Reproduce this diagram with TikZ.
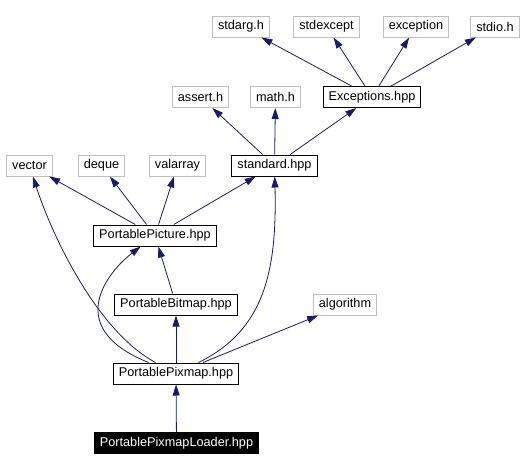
\documentclass[tikz,border=0pt]{standalone}
\usepackage{fontspec}
\setmainfont{Liberation Sans}
\usetikzlibrary{arrows.meta}
\definecolor{edgeblue}{HTML}{191970}
\definecolor{sysgray}{HTML}{BFBFBF}
\begin{document}
\begin{tikzpicture}[x=1pt,y=-1pt,
        file/.style = {draw, line width=1pt, inner xsep=5.5pt, inner ysep=0pt,
            minimum height=21pt, font=\fontsize{12.7}{15}\selectfont},
        sysfile/.style = {file, draw=sysgray},
        projfile/.style = {file, draw=black},
        mainfile/.style = {file, draw=black, fill=black, text=white},
        incl/.style = {draw=edgeblue, line width=0.8pt, -{Triangle[length=11pt,width=7pt]}}]
        \useasboundingbox (0,0) rectangle (523,471);

        % top rows
        \node[sysfile] (stdarg) at (241,26.5) {stdarg.h};
        \node[sysfile] (stdexcept) at (326.5,26.5) {stdexcept};
        \node[sysfile] (exception) at (416,26.5) {exception};
        \node[sysfile] (stdio) at (495,26.5) {stdio.h};
        \node[sysfile] (assert) at (200.5,97) {assert.h};
        \node[sysfile] (math) at (275.5,97) {math.h};
        \node[projfile] (exceptions) at (372,97) {Exceptions.hpp};
        \node[sysfile] (vector) at (29.5,165.5) {vector};
        \node[sysfile] (deque) at (101.5,165.5) {deque};
        \node[sysfile] (valarray) at (177.5,165.5) {valarray};
        \node[projfile] (standard) at (274.5,165.5) {standard.hpp};

        % project headers
        \node[projfile] (picture) at (155,235.5) {PortablePicture.hpp};
        \node[projfile] (bitmap) at (176,304.5) {PortableBitmap.hpp};
        \node[sysfile] (algorithm) at (345,304.5) {algorithm};
        \node[projfile] (pixmap) at (176,373.5) {PortablePixmap.hpp};
        \node[mainfile] (loader) at (176.5,443) {PortablePixmapLoader.hpp};

        \foreach \t in {stdarg,stdexcept,exception,stdio} {
            \draw[incl] (exceptions) -- (\t);
        }
        \foreach \t in {assert,math,exceptions} {
            \draw[incl] (standard) -- (\t);
        }
        \foreach \t in {vector,deque,valarray,standard} {
            \draw[incl] (picture) -- (\t);
        }
        \draw[incl] (bitmap) -- (picture);
        \draw[incl] (pixmap) .. controls (95,330) and (50,230) .. (vector);
        \draw[incl] (pixmap) .. controls (60,327) and (110,270) .. (picture);
        \draw[incl] (pixmap) -- (bitmap);
        \draw[incl] (pixmap) .. controls (265,330) and (277,270) .. (standard);
        \draw[incl] (pixmap) -- (algorithm);
        \draw[incl] (loader) -- (pixmap);
    \end{tikzpicture}
\end{document}
